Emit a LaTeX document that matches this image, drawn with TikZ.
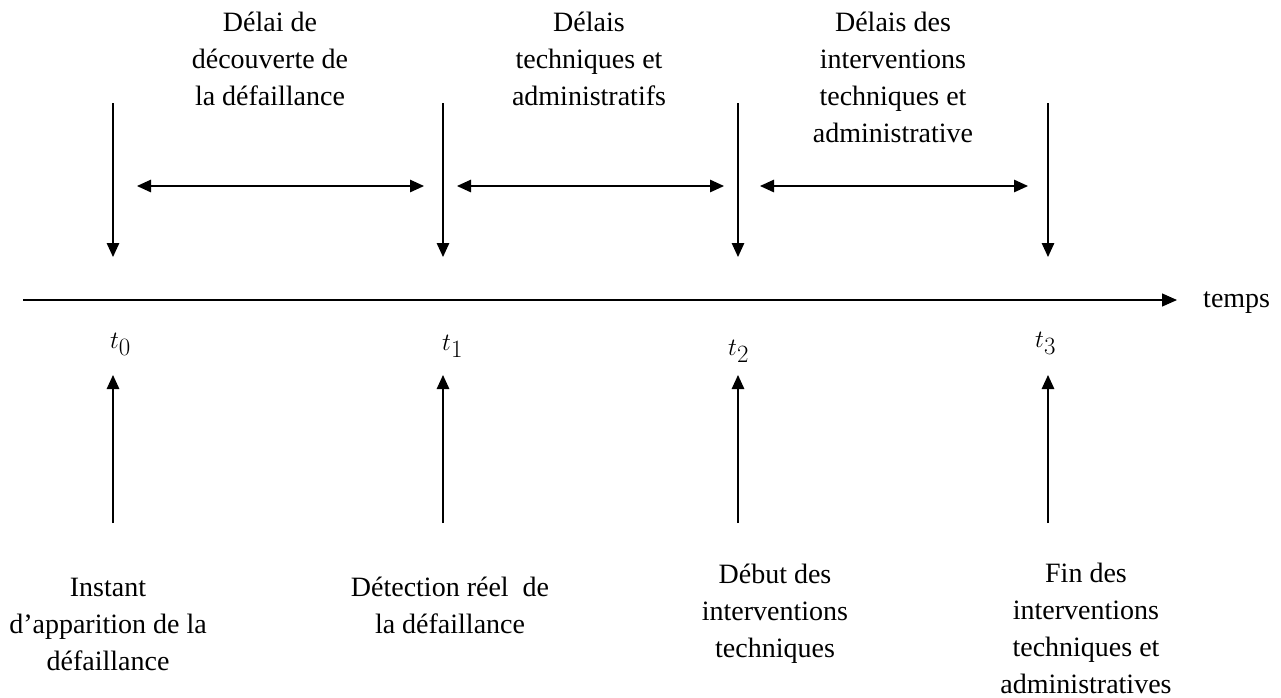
\documentclass[tikz,border=0pt]{standalone}
\usepackage{fontspec}
\setmainfont{Liberation Serif}
\usetikzlibrary{arrows.meta}
\begin{document}
\begin{tikzpicture}[x=1pt,y=-1pt,
  conn/.style={line width=1.3pt,-{Triangle[length=14pt,width=12.5pt]}},
  dconn/.style={line width=1.3pt,{Triangle[length=14pt,width=12.5pt]}-{Triangle[length=14pt,width=12.5pt]}},
  lbl/.style={inner sep=0pt,align=center,anchor=base,font=\fontsize{28}{36.7}\selectfont},
  tlbl/.style={inner sep=0pt,anchor=base west,font=\fontsize{33}{35}\selectfont}]
\useasboundingbox (0,0) rectangle (1281,697);
% timeline
\coordinate (ax0) at (23,300);
\coordinate (ax1) at (1177,300);
\draw[line width=1.3pt,-{Triangle[length=15pt,width=13pt]}] (ax0) -- (ax1);
\node[lbl,anchor=base west] (temps) at (1203,307) {temps};
% down arrows
\foreach \n/\x in {0/113,1/443,2/738,3/1048}{
  \coordinate (d\n a) at (\x,103);
  \coordinate (d\n b) at (\x,257);
  \draw[conn] (d\n a) -- (d\n b);
  \coordinate (u\n a) at (\x,523);
  \coordinate (u\n b) at (\x,375);
  \draw[conn] (u\n a) -- (u\n b);
}
% double arrows
\coordinate (h1a) at (137,186); \coordinate (h1b) at (424,186);
\coordinate (h2a) at (457,186); \coordinate (h2b) at (724,186);
\coordinate (h3a) at (760,186); \coordinate (h3b) at (1028,186);
\draw[dconn] (h1a) -- (h1b);
\draw[dconn] (h2a) -- (h2b);
\draw[dconn] (h3a) -- (h3b);
% t labels
\node[tlbl] (t0) at (110,348) {$t_0$};
\node[tlbl] (t1) at (442,350) {$t_1$};
\node[tlbl] (t2) at (728,355) {$t_2$};
\node[tlbl] (t3) at (1035,347) {$t_3$};
% top labels (anchor = baseline of last line)
\node[lbl] (top1) at (270,105) {Délai de\\découverte de\\la défaillance};
\node[lbl] (top2) at (589,105) {Délais\\techniques et\\administratifs};
\node[lbl] (top3) at (893,142) {Délais des\\interventions\\techniques et\\administrative};
% bottom labels
\node[lbl] (bot0) at (108,670) {Instant\\d’apparition de la\\défaillance};
\node[lbl] (bot1) at (450,633) {Détection réel\ \ de\\la défaillance};
\node[lbl] (bot2) at (775,657) {Début des\\interventions\\techniques};
\node[lbl] (bot3) at (1086,693) {Fin des\\interventions\\techniques et\\administratives};
\end{tikzpicture}
\end{document}
